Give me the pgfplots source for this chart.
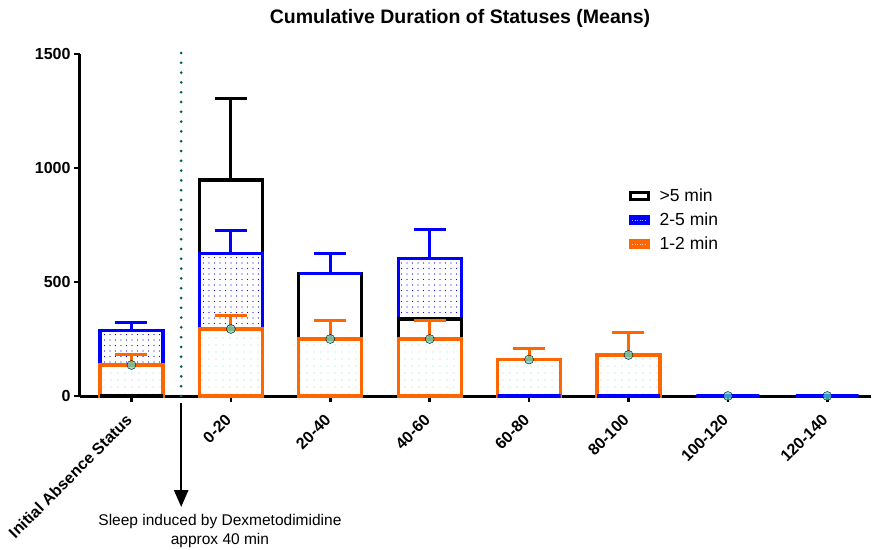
\documentclass[border=0pt]{standalone}
\usepackage{fontspec}
\setmainfont{Liberation Sans}
\usepackage{pgfplots}
\pgfplotsset{compat=1.18}
\usetikzlibrary{patterns.meta,arrows.meta}
\definecolor{orng}{RGB}{255,102,0}
\definecolor{dotc}{RGB}{80,215,200}
\definecolor{tealline}{RGB}{0,96,96}
\definecolor{patc}{RGB}{130,225,215}
\pgfplotsset{
 mybar/.style={ybar, bar width=0.633, bar shift=0pt, line width=3.2pt, forget plot},
 myerr/.style={error bars/.cd, y dir=plus, y explicit,
   error bar style={line width=3pt, #1},
   error mark options={rotate=90, line width=3pt, mark size=16pt, #1}}
}
\begin{document}
\begin{tikzpicture}
\begin{axis}[
  scale only axis, width=791pt, height=342pt,
  xmin=-0.518, xmax=7.44, ymin=0, ymax=1500,
  axis lines*=left,
  axis line style={line width=3pt},
  clip=false,
  xtick={0,...,7},
  xticklabels={Initial Absence Status,0-20,20-40,40-60,60-80,80-100,100-120,120-140},
  ytick={0,500,1000,1500},
  tick style={line width=2.7pt, black},
  major tick length=6pt, tick align=outside,
  /pgf/number format/assume math mode=true,
  /pgf/number format/1000 sep={},
  ticklabel style={font=\bfseries\fontsize{16}{16}\selectfont},
  xticklabel style={rotate=45, anchor=east},
  xticklabel shift=13pt,
  legend style={at={(axis cs:5.0,918)}, anchor=north west, draw=none, fill=none,
    inner sep=0pt, row sep=6pt, font=\fontsize{17.5}{17.5}\selectfont,
    /tikz/every odd column/.append style={column sep=8pt}},
  legend cell align=left,
]
\addlegendimage{legend image code/.code={\draw[black, line width=3pt, fill=white] (0pt,-3.5pt) rectangle (18pt,3.5pt);}}
\addlegendentry{>5 min}
\addlegendimage{legend image code/.code={\draw[blue, line width=3pt, fill=blue] (0pt,-3.5pt) rectangle (18pt,3.5pt);
  \draw[white!70!blue, line width=1pt, dash pattern=on 1pt off 1.5pt] (2pt,0pt) -- (16pt,0pt);}}
\addlegendentry{2-5 min}
\addlegendimage{legend image code/.code={\draw[orng, line width=3pt, fill=orng] (0pt,-3.5pt) rectangle (18pt,3.5pt);
  \draw[white!70!orng, line width=1pt, dash pattern=on 1pt off 1.5pt] (2pt,0pt) -- (16pt,0pt);}}
\addlegendentry{1-2 min}

% dotted separator
\addplot[tealline, line width=3pt, line cap=round, dash pattern=on 0pt off 9.8pt, forget plot] coordinates {(0.5,0) (0.5,1531)};

% >5 min, behind
\addplot[mybar, draw=black, fill=white, myerr=black] coordinates {(1,947) +- (0,356) (2,538) +- (0,0)};
% 2-5 min, behind
\addplot[mybar, draw=blue, preaction={fill=white}, pattern={Dots[distance=5.5pt, radius=0.7pt]}, pattern color=blue, myerr=blue]
  coordinates {(0,289) +- (0,32) (1,626) +- (0,99) (3,604) +- (0,128)};
% >5 min, in front of 2-5
\addplot[mybar, draw=black, fill=white] coordinates {(3,338)};
% 2-5 min top at 20-40
\addplot[blue, line width=3.2pt, forget plot, mark=none] coordinates {(1.6835,538) (2.3165,538)};
\addplot[blue, line width=3pt, forget plot, mark=none, myerr=blue] coordinates {(2,538) +- (0,88)};
% 1-2 min
\addplot[mybar, draw=orng, preaction={fill=white}, pattern={Dots[distance=6.5pt, radius=0.65pt]}, pattern color=patc, myerr=orng]
  coordinates {(0,136) +- (0,48) (1,294) +- (0,58) (2,250) +- (0,83) (3,250) +- (0,83) (4,160) +- (0,50) (5,180) +- (0,99)};
% zero bars
\addplot[mybar, draw=blue, fill=none] coordinates {(4,0) (5,0) (6,0) (7,0)};
\addplot[mybar, draw=black, fill=none] coordinates {(0,0)};
% mean markers
\addplot[only marks, mark=*, mark size=4.5pt, mark options={draw=none, fill=dotc, fill opacity=0.7}, forget plot]
  coordinates {(0,136) (1,294) (2,250) (3,250) (4,160) (5,180) (6,0) (7,0)};

\node[font=\bfseries\fontsize{19.5}{19.5}\selectfont] at (axis cs:3.305,1658) {Cumulative Duration of Statuses (Means)};
\draw[-{Triangle[length=17pt,width=14pt]}, line width=2.4pt] (axis cs:0.5,-31) -- (axis cs:0.5,-487);
\node[align=center, inner sep=0pt, font=\fontsize{15.5}{18.5}\selectfont] at (axis cs:0.89,-592) {Sleep induced by Dexmetodimidine\\approx 40 min};
\coordinate (O) at (rel axis cs:0,0);
\end{axis}
\pgfresetboundingbox
\path ([shift={(-80pt,-153pt)}]O) rectangle ([shift={(794pt,396pt)}]O);
\end{tikzpicture}
\end{document}
